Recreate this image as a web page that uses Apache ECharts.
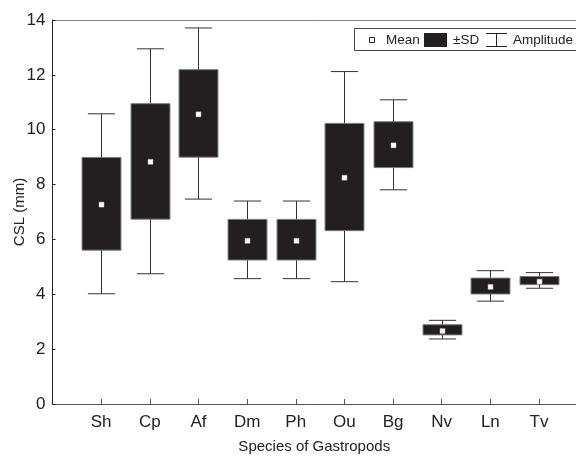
<!DOCTYPE html>
<html>
<head>
<meta charset="utf-8">
<script src="https://cdn.jsdelivr.net/npm/echarts@6/dist/echarts.min.js"></script>
<style>html,body{margin:0;padding:0;background:#fff}#c{width:576px;height:456px}</style>
</head>
<body>
<div id="c"></div>
<script>
const categories = ['Sh','Cp','Af','Dm','Ph','Ou','Bg','Nv','Ln','Tv'];
const maxVals  = [10.58,12.95,13.71,7.40,7.40,12.12,11.09,3.05,4.86,4.79];
const sdHigh   = [8.99,10.95,12.19,6.73,6.73,10.23,10.29,2.89,4.59,4.65];
const means    = [7.27,8.83,10.56,5.95,5.95,8.25,9.43,2.66,4.27,4.46];
const sdLow    = [5.61,6.74,9.00,5.25,5.25,6.32,8.62,2.52,4.01,4.35];
const minVals  = [4.02,4.75,7.47,4.57,4.57,4.46,7.81,2.37,3.75,4.22];
const yTicks   = [0,2,4,6,8,10,12,14];

const positions = categories.map((c,i)=>i+1);
const data = categories.map((c,i)=>[positions[i], minVals[i], sdLow[i], means[i], sdHigh[i], maxVals[i]]);

const FONT = 'Liberation Sans, Arial, sans-serif';
const chart = echarts.init(document.getElementById('c'), null, {renderer:'canvas'});

function renderItem(params, api){
  const x = api.value(0);
  const pMin = api.coord([x, api.value(1)]);
  const pLo = api.coord([x, api.value(2)]);
  const pMean = api.coord([x, api.value(3)]);
  const pHi = api.coord([x, api.value(4)]);
  const pMax = api.coord([x, api.value(5)]);
  const band = api.size([1,0])[0];
  const bw = band*0.8, cw = band*0.56;
  const cx = Math.round(pMin[0])+0.5;
  const lineStyle = {stroke:'#333', lineWidth:1};
  return {type:'group', children:[
    {type:'line', shape:{x1:cx,y1:pMax[1],x2:cx,y2:pMin[1]}, style:lineStyle},
    {type:'line', shape:{x1:cx-cw/2,y1:pMax[1],x2:cx+cw/2,y2:pMax[1]}, style:lineStyle},
    {type:'line', shape:{x1:cx-cw/2,y1:pMin[1],x2:cx+cw/2,y2:pMin[1]}, style:lineStyle},
    {type:'rect', shape:{x:cx-bw/2,y:pHi[1],width:bw,height:pLo[1]-pHi[1]}, style:{fill:'#231f20', stroke:'#7a7a7a', lineWidth:1}},
    {type:'rect', shape:{x:cx-2.5,y:pMean[1]-2.5,width:5,height:5}, style:{fill:'#fff', stroke:'#aaa', lineWidth:0.5}}
  ]};
}

const option = {
  animation:false,
  backgroundColor:'#fff',
  grid:{left:52.5, right:0, top:20, bottom:52, containLabel:false, outerBoundsMode:'none'},
  xAxis:[{
    type:'value', min:0, max:10.76, interval:1,
    splitLine:{show:false},
    axisLine:{show:true, lineStyle:{color:'#555', width:1}},
    axisTick:{show:true, inside:true, length:5, customValues:positions, lineStyle:{color:'#555'}},
    axisLabel:{show:true, customValues:positions, formatter:v=>categories[Math.round(v)-1]||'', color:'#222', fontSize:17, fontFamily:FONT, margin:10},
    name:'Species of Gastropods', nameLocation:'middle', nameGap:35, nameMoveOverlap:false,
    nameTextStyle:{color:'#222', fontSize:15, fontFamily:FONT}
  },{
    type:'value', position:'top', min:0, max:10.76,
    splitLine:{show:false}, axisTick:{show:false}, axisLabel:{show:false},
    axisLine:{show:true, lineStyle:{color:'#888', width:1}}
  }],
  yAxis:{
    type:'value', min:0, max:14, interval:2,
    splitLine:{show:false},
    axisLine:{show:true, lineStyle:{color:'#222', width:1}},
    axisTick:{show:true, inside:true, length:3, lineStyle:{color:'#222'}},
    axisLabel:{color:'#222', fontSize:17, fontFamily:FONT, margin:7, formatter:v=>yTicks.includes(v)?String(v):''},
    name:'CSL (mm)', nameLocation:'middle', nameGap:25, nameRotate:90, nameMoveOverlap:false,
    nameTextStyle:{color:'#222', fontSize:15, fontFamily:FONT}
  },
  series:[{type:'custom', renderItem:renderItem, data:data, clip:false, xAxisIndex:0}],
  graphic:[
    {type:'rect', shape:{x:354.5,y:28.5,width:240,height:22}, style:{fill:'#fff', stroke:'#444', lineWidth:1}, z:10},
    {type:'rect', shape:{x:369.5,y:37.5,width:5,height:5}, style:{fill:'#fff', stroke:'#222', lineWidth:1}, z:11},
    {type:'text', x:386, y:40, style:{text:'Mean', fill:'#222', font:'13.5px '+FONT, verticalAlign:'middle'}, z:11},
    {type:'rect', shape:{x:424,y:33,width:23,height:14}, style:{fill:'#231f20'}, z:11},
    {type:'text', x:453, y:40, style:{text:'±SD', fill:'#222', font:'13.5px '+FONT, verticalAlign:'middle'}, z:11},
    {type:'line', shape:{x1:486,y1:33.5,x2:507,y2:33.5}, style:{stroke:'#222', lineWidth:1}, z:11},
    {type:'line', shape:{x1:486,y1:46.5,x2:507,y2:46.5}, style:{stroke:'#222', lineWidth:1}, z:11},
    {type:'line', shape:{x1:496.5,y1:33.5,x2:496.5,y2:46.5}, style:{stroke:'#222', lineWidth:1}, z:11},
    {type:'text', x:513, y:40, style:{text:'Amplitude', fill:'#222', font:'13.5px '+FONT, verticalAlign:'middle'}, z:11}
  ]
};
chart.setOption(option);
</script>
</body>
</html>
